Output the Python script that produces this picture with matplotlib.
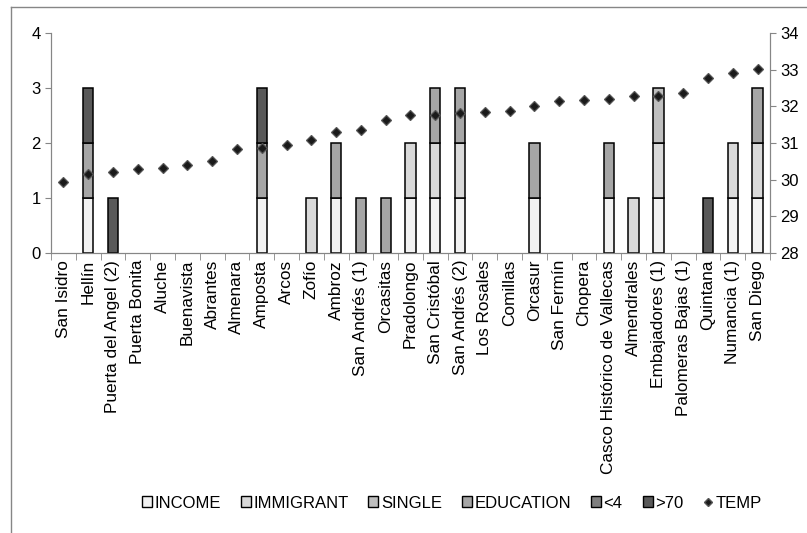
import matplotlib
matplotlib.use("Agg")
import matplotlib.pyplot as plt
from matplotlib.lines import Line2D
from matplotlib.patches import Patch
import numpy as np

plt.rcParams['font.family'] = ['Liberation Sans', 'DejaVu Sans']

barrios = ["San Isidro", "Hellín", "Puerta del Angel (2)", "Puerta Bonita", "Aluche",
           "Buenavista", "Abrantes", "Almenara", "Amposta", "Arcos", "Zofío", "Ambroz",
           "San Andrés (1)", "Orcasitas", "Pradolongo", "San Cristóbal", "San Andrés (2)",
           "Los Rosales", "Comillas", "Orcasur", "San Fermín", "Chopera",
           "Casco Histórico de Vallecas", "Almendrales", "Embajadores (1)",
           "Palomeras Bajas (1)", "Quintana", "Numancia (1)", "San Diego"]
income    = [0, 1, 0, 0, 0, 0, 0, 0, 1, 0, 0, 1, 0, 0, 1, 1, 1, 0, 0, 1, 0, 0, 1, 0, 1, 0, 0, 1, 1]
immigrant = [0, 0, 0, 0, 0, 0, 0, 0, 0, 0, 1, 0, 0, 0, 1, 1, 1, 0, 0, 0, 0, 0, 0, 1, 1, 0, 0, 1, 1]
single    = [0, 0, 0, 0, 0, 0, 0, 0, 0, 0, 0, 0, 0, 0, 0, 0, 0, 0, 0, 0, 0, 0, 0, 0, 1, 0, 0, 0, 0]
education = [0, 1, 0, 0, 0, 0, 0, 0, 1, 0, 0, 1, 1, 1, 0, 1, 1, 0, 0, 1, 0, 0, 1, 0, 0, 0, 0, 0, 1]
under4    = [0] * 29
over70    = [0, 1, 1, 0, 0, 0, 0, 0, 1, 0, 0, 0, 0, 0, 0, 0, 0, 0, 0, 0, 0, 0, 0, 0, 0, 0, 1, 0, 0]
temp = [29.94, 30.15, 30.22, 30.29, 30.32, 30.41, 30.50, 30.83, 30.85, 30.95, 31.09, 31.29,
        31.36, 31.63, 31.76, 31.76, 31.81, 31.85, 31.87, 32.00, 32.14, 32.17, 32.20, 32.27,
        32.29, 32.36, 32.78, 32.91, 33.01]

series = [("INCOME", income, "#f2f2f2"), ("IMMIGRANT", immigrant, "#d9d9d9"),
          ("SINGLE", single, "#bfbfbf"), ("EDUCATION", education, "#a6a6a6"),
          ("<4", under4, "#7f7f7f"), (">70", over70, "#595959")]

fig = plt.figure(figsize=(8.07, 5.33), dpi=100)
ax = fig.add_axes([51/807, 1-253/533, (770-51)/807, 220/533])
x = np.arange(len(barrios))
bottom = np.zeros(len(barrios))
for name, vals, col in series:
    v = np.array(vals, dtype=float)
    m = v > 0
    # skip empty segments so no edge lines show at zero
    if m.any():
        ax.bar(x[m], v[m], bottom=bottom[m], width=0.42, color=col, edgecolor="black", linewidth=1.1)
    bottom += v

ax.set_xlim(-0.5, len(barrios) - 0.5)
ax.set_ylim(0, 4)
ax.set_yticks([0, 1, 2, 3, 4])
ax.set_xticks(x)
ax.set_xticklabels(barrios, rotation=90, fontsize=12.4)
ax.set_xticks(np.arange(len(barrios) + 1) - 0.5, minor=True)
ax.tick_params(axis="x", which="major", length=0, pad=5)
ax.tick_params(axis="x", which="minor", length=5, color="#868686")
ax.tick_params(axis="y", length=4, color="#868686", labelsize=12)
ax.spines["top"].set_visible(False)
for s in ["left", "bottom", "right"]:
    ax.spines[s].set_color("#868686")

ax2 = ax.twinx()
ax2.plot(x, temp, linestyle="none", marker="D", markersize=5.2, color="#1a1a1a",
         markeredgecolor="#555555", markeredgewidth=0.9)
ax2.set_ylim(28, 34)
ax2.set_yticks([28, 29, 30, 31, 32, 33, 34])
ax2.tick_params(axis="y", length=4, color="#868686", labelsize=12)
ax2.spines["top"].set_visible(False)
for s in ["left", "bottom", "right"]:
    ax2.spines[s].set_color("#868686")

handles = [Patch(facecolor=c, edgecolor="black", linewidth=1.0, label=n) for n, _, c in series]
handles.append(Line2D([], [], linestyle="none", marker="D", markersize=4, color="#1a1a1a",
                      markeredgecolor="#555555", label="TEMP"))
fig.legend(handles=handles, loc="center", bbox_to_anchor=(0.56, 1-503/533), ncol=7,
           frameon=False, fontsize=12, handlelength=0.6, handleheight=0.6,
           handletextpad=0.15, columnspacing=1.2)

fig.add_artist(Line2D([11/807, 11/807], [0, 1-7/533], color="#868686", linewidth=1))
fig.add_artist(Line2D([11/807, 1], [1-7/533, 1-7/533], color="#868686", linewidth=1))

fig.savefig("out.png", dpi=100)
